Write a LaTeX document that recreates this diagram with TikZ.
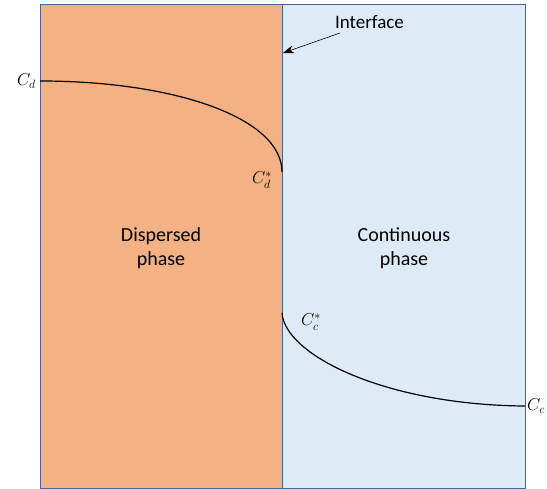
\documentclass[tikz,border=0pt]{standalone}
\usepackage{fontspec}
\setmainfont{Carlito}
\usepackage{tikz}
\usetikzlibrary{
    arrows.meta,
    positioning
}

\definecolor{dispfill}{HTML}{F4B183}
\definecolor{contfill}{HTML}{DEEBF7}
\definecolor{edgeblue}{HTML}{4A6590}

\begin{document}
\begin{tikzpicture}[
    x=1pt,
    y=-1pt,
    >={Stealth[length=11pt,width=8pt]},
    phase/.style={
        draw=edgeblue,
        line width=1pt
    },
    phasetext/.style={
        font=\fontsize{20}{24}\selectfont,
        align=center
    },
    conc/.style={
        font=\fontsize{18}{21}\selectfont,
        inner sep=1pt
    },
    profile/.style={
        black,
        line width=1.2pt
    }
]

\useasboundingbox (0,0) rectangle (547,489);

% ============================================================
% PHASES
% ============================================================

\fill[dispfill] (40,5) rectangle (282,488);
\fill[contfill] (282,5) rectangle (525,488);

\draw[phase] (40,5) rectangle (282,488);
\draw[phase] (282,5) rectangle (525,488);

\node[phasetext] (dispersed) at (161,248) {Dispersed\\phase};
\node[phasetext] (continuous) at (404,248) {Continuous\\phase};

% ============================================================
% CONCENTRATION PROFILES
% ============================================================

\coordinate (cdbulk) at (40,81);
\coordinate (cdint) at (282,172);
\coordinate (ccint) at (282,313);
\coordinate (ccbulk) at (525,406);

\draw[profile]
    (cdbulk) .. controls (175,81) and (282,118) .. (cdint);

\draw[profile]
    (ccint) .. controls (285,355) and (385,405) .. (ccbulk);

\node[conc, left=3pt of cdbulk] (cd) {$C_d$};
\node[conc] (cdstar) at (262,180) {$C_d^*$};
\node[conc] (ccstar) at (311,322) {$C_c^*$};
\node[conc, right=1pt of ccbulk] (cc) {$C_c$};

% ============================================================
% INTERFACE LABEL
% ============================================================

\node[font=\fontsize{19}{22}\selectfont] (interface) at (369.5,22) {Interface};
\coordinate (iftail) at (340,33);
\coordinate (ifpoint) at (283,53);

\draw[->, line width=0.6pt] (iftail) -- (ifpoint);

\end{tikzpicture}
\end{document}
